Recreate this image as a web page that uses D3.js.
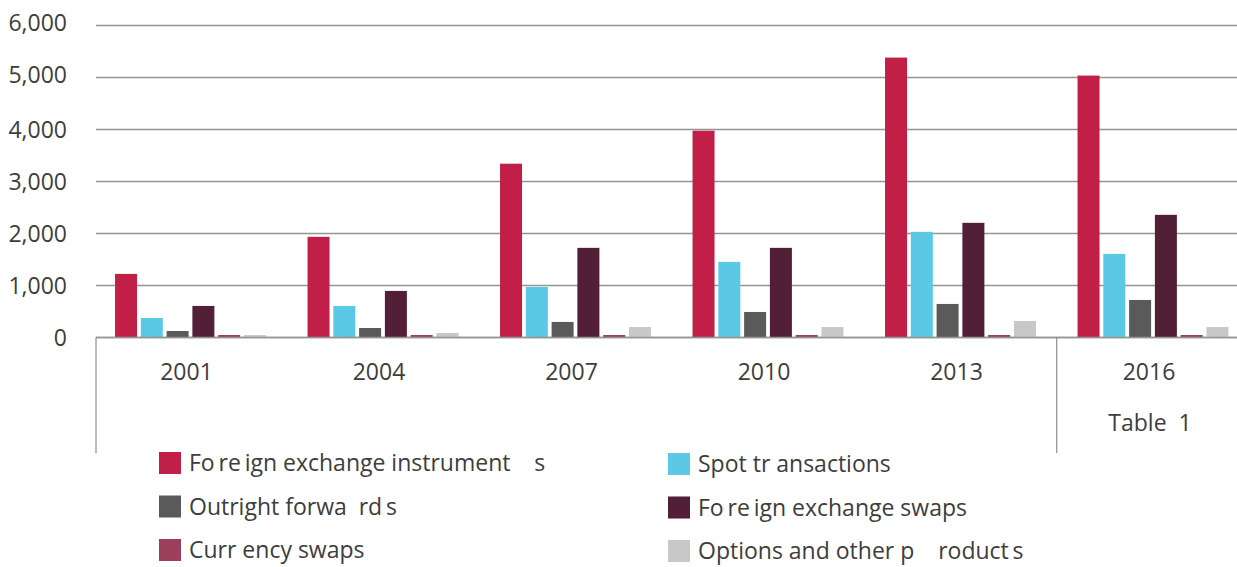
<!DOCTYPE html>
<html>
<head>
    <title>Foreign exchange turnover</title>
    <script src="https://d3js.org/d3.v7.min.js"></script>
    <style>
        body { margin: 0; background: #fff; }
        text { font-family: "Open Sans", "DejaVu Sans", sans-serif; fill: #3d3d3d; white-space: pre; }
    </style>
</head>
<body>
    <div id="chart"></div>

    <script>
        // Chart values
        const years = ["2001", "2004", "2007", "2010", "2013", "2016"];
        const seriesNames = [
            "Fo\u2009re\u2009ign exchange instrument    s",
            "Spot tr ansactions",
            "Outright forwa  rd\u2009s",
            "Fo\u2009re\u2009ign exchange swaps",
            "Curr ency swaps",
            "Options and other p    roduct\u2009s"
        ];
        const fxInstruments = [1223, 1936, 3342, 3977, 5383, 5037];
        const spotTransactions = [375, 607, 973, 1454, 2032, 1608];
        const outrightForwards = [125, 183, 299, 491, 645, 722];
        const fxSwaps = [607, 896, 1724, 1724, 2205, 2359];
        const currencySwaps = [48, 48, 48, 48, 48, 48];
        const optionsOther = [48, 87, 202, 202, 318, 202];
        const yTicks = [0, 1000, 2000, 3000, 4000, 5000, 6000];
        const tableLabel = "Table  1";

        const seriesValues = [fxInstruments, spotTransactions, outrightForwards, fxSwaps, currencySwaps, optionsOther];
        const colors = ["#c11f48", "#5bc9e6", "#5a5a5a", "#521f36", "#9c3f5c", "#c8c8c8"];

        const width = 1237, height = 567;

        const svg = d3.select("#chart")
            .append("svg")
            .attr("width", width)
            .attr("height", height);

        // Scales
        const x0 = d3.scaleBand()
            .domain(years)
            .range([94.25, 1249.25])
            .paddingInner(0.216)
            .paddingOuter(0.108);

        const x1 = d3.scaleBand()
            .domain(d3.range(seriesNames.length))
            .range([0, x0.bandwidth()])
            .paddingInner(0.147);

        const y = d3.scaleLinear()
            .domain([0, 6000])
            .range([337.5, 25.5]);

        // Gridlines
        svg.append("g")
            .selectAll("line")
            .data(yTicks)
            .enter()
            .append("line")
            .attr("x1", 96)
            .attr("x2", width)
            .attr("y1", d => y(d))
            .attr("y2", d => y(d))
            .attr("stroke", "#949494")
            .attr("stroke-width", 1.5);

        // Y labels
        svg.append("g")
            .call(d3.axisLeft(y).tickValues(yTicks).tickSize(0).tickPadding(0).tickFormat(d3.format(",")))
            .attr("transform", "translate(67,0)")
            .call(g => g.select(".domain").remove())
            .selectAll("text")
            .attr("font-family", null)
            .style("font-size", "23px")
            .attr("dy", "0.34em")
            .attr("y", d => d >= 5000 ? -3 : 0);

        // Bars
        const groups = svg.append("g")
            .selectAll("g")
            .data(years)
            .enter()
            .append("g")
            .attr("transform", d => `translate(${x0(d)},0)`);

        groups.selectAll("rect")
            .data((d, i) => seriesValues.map((s, k) => ({ k, v: s[i] })))
            .enter()
            .append("rect")
            .attr("x", d => x1(d.k))
            .attr("width", x1.bandwidth())
            .attr("y", d => y(d.v))
            .attr("height", d => y(0) - y(d.v))
            .attr("fill", d => colors[d.k]);

        // Baseline and table lines
        svg.append("line")
            .attr("x1", 96).attr("x2", width)
            .attr("y1", y(0)).attr("y2", y(0))
            .attr("stroke", "#949494").attr("stroke-width", 1.5);

        const tableBottom = 453;
        const sepX = (x0("2013") + x0.bandwidth() + x0("2016")) / 2;
        [96, sepX].forEach(xx => {
            svg.append("line")
                .attr("x1", xx).attr("x2", xx)
                .attr("y1", y(0)).attr("y2", tableBottom)
                .attr("stroke", "#777").attr("stroke-width", 1);
        });

        // Category labels
        svg.append("g")
            .selectAll("text")
            .data(years)
            .enter()
            .append("text")
            .attr("x", d => x0(d) + x0.bandwidth() / 2 - 4)
            .attr("y", 380)
            .attr("text-anchor", "middle")
            .style("font-size", "23px")
            .text(d => d);

        svg.append("text")
            .attr("x", x0("2016") + x0.bandwidth() / 2 - 3)
            .attr("y", 431)
            .attr("text-anchor", "middle")
            .style("font-size", "23px")
            .text(tableLabel);

        // Legend
        const legend = svg.append("g");
        const legendItems = legend.selectAll("g")
            .data(seriesNames)
            .enter()
            .append("g")
            .attr("transform", (d, i) => {
                const col = i % 2, row = Math.floor(i / 2);
                return `translate(${col === 0 ? 159 : 668},${452 + row * 43.5 + col})`;
            });

        legendItems.append("rect")
            .attr("width", 22)
            .attr("height", 22)
            .attr("fill", (d, i) => colors[i]);

        legendItems.append("text")
            .attr("x", 30)
            .attr("y", 19)
            .style("font-size", "23px")
            .text(d => d);
    </script>
</body>
</html>
